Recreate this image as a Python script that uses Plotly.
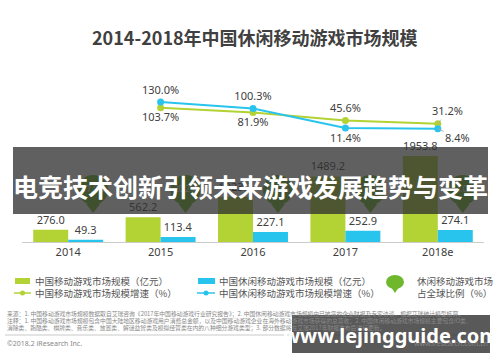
import plotly.graph_objects as go

# ---------------- data ----------------
years = ["2014", "2015", "2016", "2017", "2018e"]
mobile_market = [276.0, 562.2, 1023.2, 1489.2, 1953.8]      # 中国移动游戏市场规模（亿元）
casual_market = [49.3, 113.4, 227.1, 252.9, 274.1]          # 中国休闲移动游戏市场规模（亿元）
growth_years = ["2015", "2016", "2017", "2018e"]
mobile_growth = [103.7, 81.9, 45.6, 31.2]                   # 中国移动游戏市场规模增速（%）
casual_growth = [130.0, 100.3, 11.4, 8.4]                   # 中国休闲移动游戏市场规模增速（%）
casual_share = [17.9, 20.2, 22.2, 17.0, 14.0]               # 休闲移动游戏市场占全球比例（%）（estimated, hidden）

title_text = "2014-2018年中国休闲移动游戏市场规模"
banner_text = "电竞技术创新引领未来游戏发展趋势与变革"
watermark_text = "www.lejingguide.com"
legend_labels = ["中国移动游戏市场规模（亿元）", "中国休闲移动游戏市场规模（亿元）",
                 "中国移动游戏市场规模增速（%）", "中国休闲移动游戏市场规模增速（%）",
                 "休闲移动游戏市场<br>占全球比例（%）"]
notes = [
    "来源：1. 中国移动游戏市场规模数据取自艾瑞咨询《2017年中国移动游戏行业研究报告》；2. 中国休闲移动游戏市场规模由已披露的企业财报及专家访谈，根据艾瑞统计模型核算。",
    "注释：1. 中国移动游戏市场规模包含中国大陆地区移动游戏用户消费总金额，以及中国移动游戏企业在海外移动游戏市场获得的总营收；2. 中国休闲移动游戏市场规模主要包含IO类、",
    "消除类、跑酷类、棋牌类、音乐类、放置类、解谜益智类及模拟经营类在内的八种细分游戏类型；3. 部分数据将在艾瑞2017年财报发布后进行更新。",
]

# ---------------- style ----------------
GREEN = "#b3d234"
BLUE = "#29c4ee"
BUBBLE = "#6fb82d"
TXT = "#404040"
FONT = "Noto Sans, Noto Sans CJK SC"
CJK = "Noto Sans CJK SC"

W, H = 500, 362
PL, PR, PT, PB = 22, 484, 90, 242
Y1_PER_PX = 22.7
Y2_ZERO_PX = 130.5
Y2_PX_PER = 0.219


def fx(px):
    return (px - PL) / (PR - PL)


def fy(py):
    return (PB - py) / (PB - PT)


def note(px, py, text, font, xanchor="center", **kw):
    return dict(x=fx(px), y=fy(py), xref="paper", yref="paper", text=text, showarrow=False,
                xanchor=xanchor, yanchor="middle", font=font, **kw)


idx = list(range(len(years)))
gidx = [years.index(y) for y in growth_years]

fig = go.Figure()

fig.add_trace(go.Bar(
    x=idx, y=mobile_market, marker_color=GREEN, marker_line_width=0,
    text=[f"{v:.1f}" for v in mobile_market], textposition="outside",
    textfont=dict(size=11, color=TXT, family=FONT), cliponaxis=False, showlegend=False))
fig.add_trace(go.Bar(
    x=idx, y=casual_market, marker_color=BLUE, marker_line_width=0,
    text=[f"{v:.1f}" for v in casual_market], textposition="outside",
    textfont=dict(size=11, color=TXT, family=FONT), cliponaxis=False, showlegend=False))

# bubbles (share of global market)
bubble_dx = 0.27
bubble_circle_y = (PB - 190) * Y1_PER_PX
bubble_tip_y = (PB - 207) * Y1_PER_PX
fig.add_trace(go.Scatter(
    x=[i + bubble_dx for i in idx], y=[bubble_tip_y] * len(idx), mode="markers",
    marker=dict(symbol="triangle-down", size=12, color=BUBBLE), hoverinfo="skip",
    showlegend=False, cliponaxis=False))
fig.add_trace(go.Scatter(
    x=[i + bubble_dx for i in idx], y=[bubble_circle_y] * len(idx), mode="markers+text",
    marker=dict(symbol="circle", size=30, color=BUBBLE),
    text=[f"{v:.1f}%" for v in casual_share], textposition="middle center",
    textfont=dict(size=8, color="white", family=FONT), showlegend=False, cliponaxis=False))

# growth lines
fig.add_trace(go.Scatter(
    x=gidx, y=mobile_growth, yaxis="y2", mode="lines+markers+text",
    line=dict(color=GREEN, width=2), marker=dict(size=7, color=GREEN),
    text=[f"{v:.1f}%" for v in mobile_growth[:-1]] + [""],
    textposition=["bottom center", "bottom center", "top center", "top center"],
    textfont=dict(size=11, color=TXT, family=FONT), cliponaxis=False, showlegend=False))
fig.add_trace(go.Scatter(
    x=gidx, y=casual_growth, yaxis="y2", mode="lines+markers+text",
    line=dict(color=BLUE, width=2), marker=dict(size=7, color=BLUE),
    text=[f"{v:.1f}%" for v in casual_growth[:-1]] + [""],
    textposition=["top center", "top center", "bottom center", "bottom center"],
    textfont=dict(size=11, color=TXT, family=FONT), cliponaxis=False, showlegend=False))

annotations = []
shapes = []

# leader-line labels for last points
annotations.append(dict(x=gidx[-1], y=mobile_growth[-1], xref="x", yref="y2",
                        text=f"{mobile_growth[-1]:.1f}%", showarrow=True, arrowhead=0,
                        arrowwidth=0.8, arrowcolor="#aaaaaa", ax=10, ay=-13,
                        font=dict(size=11, color=TXT, family=FONT)))
annotations.append(dict(x=gidx[-1], y=casual_growth[-1], xref="x", yref="y2",
                        text=f"{casual_growth[-1]:.1f}%", showarrow=True, arrowhead=0,
                        arrowwidth=0.8, arrowcolor="#aaaaaa", ax=20, ay=9,
                        font=dict(size=11, color=TXT, family=FONT)))

# title
annotations.append(note(255, 37, title_text, dict(size=18, color="#404040", family=CJK, weight="bold")))

# legend (manual)
LFONT = dict(size=9.5, color="#555555", family=CJK)
shapes.append(dict(type="rect", xref="paper", yref="paper", x0=fx(15), x1=fx(30), y0=fy(278), y1=fy(284),
                   fillcolor=GREEN, line_width=0))
annotations.append(note(33, 281, legend_labels[0], LFONT, "left"))
shapes.append(dict(type="rect", xref="paper", yref="paper", x0=fx(198), x1=fx(215), y0=fy(278), y1=fy(284),
                   fillcolor=BLUE, line_width=0))
annotations.append(note(217, 281, legend_labels[1], LFONT, "left"))
shapes.append(dict(type="line", xref="paper", yref="paper", x0=fx(14), x1=fx(31), y0=fy(293), y1=fy(293),
                   line=dict(color=GREEN, width=1.5)))
shapes.append(dict(type="circle", xref="paper", yref="paper", x0=fx(20), x1=fx(25), y0=fy(290.5), y1=fy(295.5),
                   fillcolor=GREEN, line_width=0))
annotations.append(note(33, 293, legend_labels[2], LFONT, "left"))
shapes.append(dict(type="line", xref="paper", yref="paper", x0=fx(197), x1=fx(215), y0=fy(293), y1=fy(293),
                   line=dict(color=BLUE, width=1.5)))
shapes.append(dict(type="circle", xref="paper", yref="paper", x0=fx(203.5), x1=fx(208.5), y0=fy(290.5), y1=fy(295.5),
                   fillcolor=BLUE, line_width=0))
annotations.append(note(217, 293, legend_labels[3], LFONT, "left"))
shapes.append(dict(type="circle", xref="paper", yref="paper", x0=fx(386), x1=fx(404), y0=fy(275), y1=fy(289),
                   fillcolor=BUBBLE, line_width=0))
shapes.append(dict(type="path", xref="paper", yref="paper",
                   path=f"M {fx(391)} {fy(287)} L {fx(399)} {fy(287)} L {fx(395)} {fy(293)} Z",
                   fillcolor=BUBBLE, line_width=0))
annotations.append(note(415, 287, legend_labels[4], LFONT, "left", align="left"))

# notes
for t, yy in zip(notes, [313, 320, 327]):
    annotations.append(note(5, yy, t, dict(size=5.8, color="#888888", family=CJK), "left"))
shapes.append(dict(type="line", xref="paper", yref="paper", x0=fx(5), x1=fx(492), y0=fy(335), y1=fy(335),
                   line=dict(color="#bbbbbb", width=0.8)))
annotations.append(note(5, 343, "©2018.2 iResearch Inc.", dict(size=7, color="#888888", family=FONT), "left"))
annotations.append(note(490, 343, "www.iresearch.com.cn", dict(size=7, color="#888888", family=FONT), "right"))

# banner overlay
shapes.append(dict(type="rect", xref="paper", yref="paper", x0=fx(13), x1=fx(488), y0=fy(214), y1=fy(147),
                   fillcolor="rgba(48,48,48,0.77)", line_width=0, layer="above"))
annotations.append(note(250, 186, banner_text, dict(size=25, color="white", family=CJK, weight="bold")))

# watermark box
shapes.append(dict(type="rect", xref="paper", yref="paper", x0=fx(292), x1=fx(490), y0=fy(353), y1=fy(315),
                   fillcolor="rgba(60,60,60,0.85)", line_width=0, layer="above"))
annotations.append(note(391, 335, watermark_text,
                        dict(size=20, color="white", family="Noto Sans", weight="bold")))

fig.update_layout(
    width=W, height=H, margin=dict(l=PL, r=W - PR, t=PT, b=H - PB),
    paper_bgcolor="white", plot_bgcolor="white",
    barmode="group", bargap=0.243, bargroupgap=0,
    showlegend=False,
    xaxis=dict(range=[-0.5, len(years) - 0.5], tickvals=idx, ticktext=years, showgrid=False,
               zeroline=False, showline=True, linecolor="#cccccc", linewidth=1, ticks="",
               tickfont=dict(size=11, color=TXT, family=FONT), fixedrange=True),
    yaxis=dict(range=[0, (PB - PT) * Y1_PER_PX], visible=False, fixedrange=True),
    yaxis2=dict(range=[-(PB - Y2_ZERO_PX) / Y2_PX_PER, (Y2_ZERO_PX - PT) / Y2_PX_PER],
                overlaying="y", visible=False, fixedrange=True),
    annotations=annotations, shapes=shapes,
)

fig.write_html("out.html", config={"displayModeBar": False},
               post_script="document.body.style.margin='0px';document.body.style.overflow='hidden';")
